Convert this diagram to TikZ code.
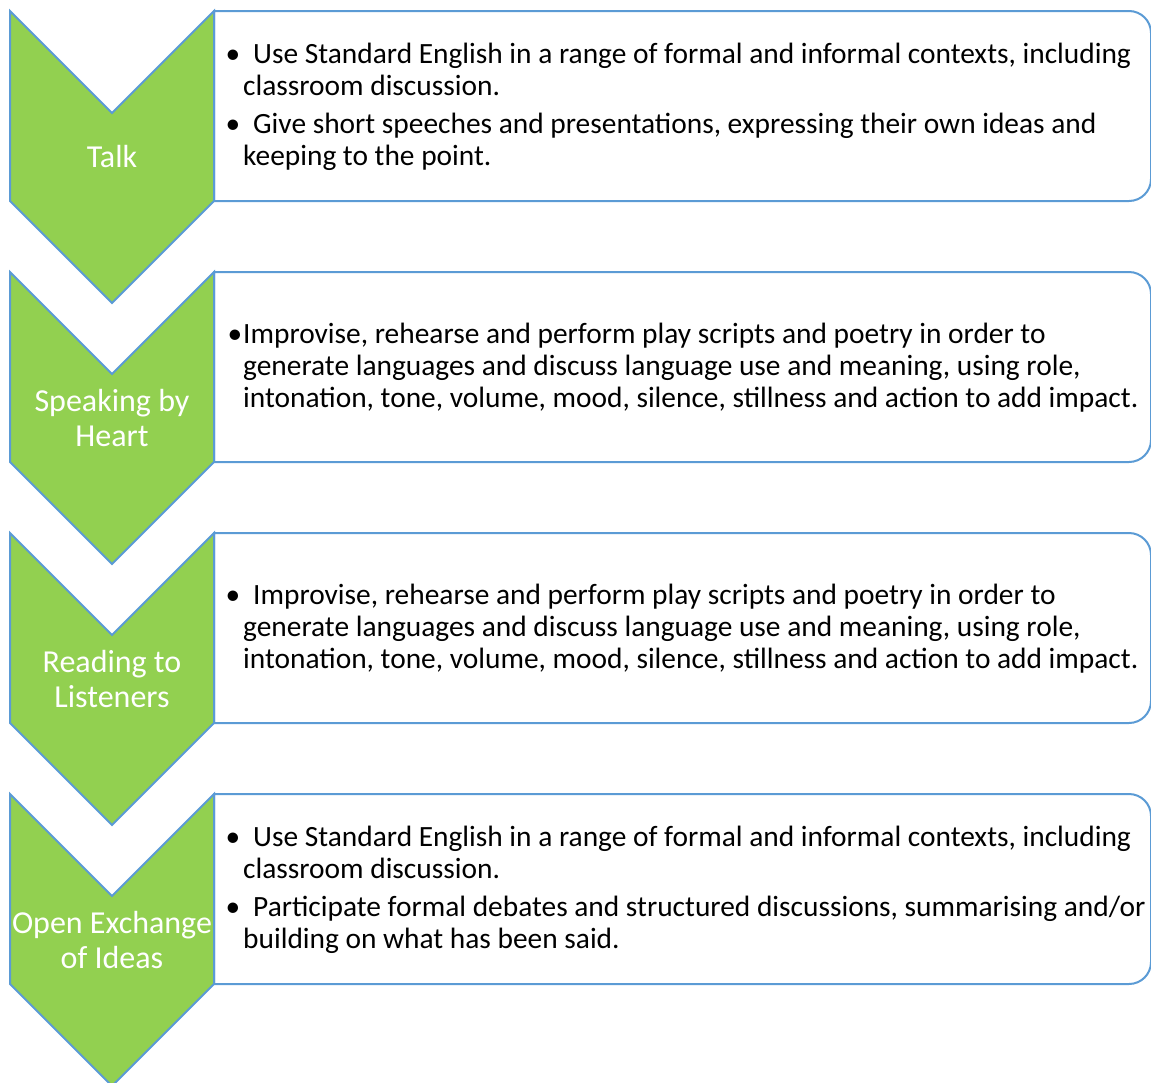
\documentclass[tikz,border=0pt]{standalone}
\usepackage{fontspec}
\setmainfont{Carlito}
\definecolor{chevgreen}{RGB}{146,208,80}
\definecolor{edgeblue}{RGB}{91,155,213}

\begin{document}
\begin{tikzpicture}[x=1pt,y=-1pt]
\tikzset{chevron/.style={fill=chevgreen,draw=edgeblue,line width=2pt,line join=miter}}
\tikzstyle{box}=[fill=white,draw=edgeblue,line width=2pt]
\tikzstyle{steplabel}=[text=white,align=center,inner sep=0pt,font=\fontsize{32}{35}\selectfont]
\tikzstyle{bullets}=[anchor=west,align=left,inner sep=0pt,font=\fontsize{29.4}{32}\selectfont]
\newcommand{\bul}{\llap{\textbullet\hspace{3pt}}\hspace{10pt}}

\useasboundingbox (0,0) rectangle (1151,1082);

% Talk
\draw[box] (214,11) -- (1129,11) arc[start angle=-90,end angle=0,radius=22] -- (1151,179) arc[start angle=0,end angle=90,radius=22] -- (214,201) -- cycle;
\draw[chevron] (10,11) -- (112,113) -- (214,11) -- (214,201) -- (112,303) -- (10,201) -- cycle;
\node[steplabel](talk) at (112,157){Talk};
\node[bullets](talktext) at (243,107){\bul Use Standard English in a range of formal and informal contexts, including\\
classroom discussion.\\[6pt]
\bul Give short speeches and presentations, expressing their own ideas and\\
keeping to the point.};

% Speaking by Heart
\draw[box] (214,272) -- (1129,272) arc[start angle=-90,end angle=0,radius=22] -- (1151,440) arc[start angle=0,end angle=90,radius=22] -- (214,462) -- cycle;
\draw[chevron] (10,272) -- (112,374) -- (214,272) -- (214,462) -- (112,564) -- (10,462) -- cycle;
\node[steplabel](heart) at (112,418){Speaking by\\Heart};
\node[bullets](hearttext) at (243,368){\llap{\textbullet\hspace{1pt}}Improvise, rehearse and perform play scripts and poetry in order to\\
generate languages and discuss language use and meaning, using role,\\
intonation, tone, volume, mood, silence, stillness and action to add impact.};

% Reading to Listeners
\draw[box] (214,533) -- (1129,533) arc[start angle=-90,end angle=0,radius=22] -- (1151,701) arc[start angle=0,end angle=90,radius=22] -- (214,723) -- cycle;
\draw[chevron] (10,533) -- (112,635) -- (214,533) -- (214,723) -- (112,825) -- (10,723) -- cycle;
\node[steplabel](listen) at (112,679){Reading to\\Listeners};
\node[bullets](listentext) at (243,629){\bul Improvise, rehearse and perform play scripts and poetry in order to\\
generate languages and discuss language use and meaning, using role,\\
intonation, tone, volume, mood, silence, stillness and action to add impact.};

% Open Exchange of Ideas
\draw[box] (214,794) -- (1129,794) arc[start angle=-90,end angle=0,radius=22] -- (1151,962) arc[start angle=0,end angle=90,radius=22] -- (214,984) -- cycle;
\draw[chevron] (10,794) -- (112,896) -- (214,794) -- (214,984) -- (112,1086) -- (10,984) -- cycle;
\node[steplabel](ideas) at (112,940){Open Exchange\\of Ideas};
\node[bullets](ideastext) at (243,890){\bul Use Standard English in a range of formal and informal contexts, including\\
classroom discussion.\\[6pt]
\bul Participate formal debates and structured discussions, summarising and/or\\
building on what has been said.};
\end{tikzpicture}
\end{document}
